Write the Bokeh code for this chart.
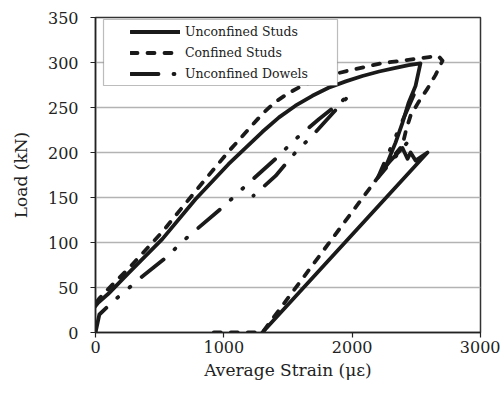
import numpy as np
from bokeh.plotting import figure
from bokeh.models import Legend, LegendItem, FixedTicker, BoxAnnotation, Range1d
from bokeh.embed import file_html
from bokeh.resources import INLINE

# ---- data (strain in microstrain, load in kN) ----
studs_unconf_x = [0, -45, -55, -30, 20, 100, 257, 522, 779, 1036, 1301, 1430, 1558, 1690,
                  1816, 1950, 2080, 2210, 2338, 2440, 2532, 2494, 2439, 2392, 2338, 2275,
                  2236, 2260, 2392, 2431, 2455, 2494, 2587, 1558, 1300]
studs_unconf_y = [0, 5, 14, 24, 33, 43, 66, 104, 148, 187, 223, 239, 252, 263,
                  272, 279, 285, 290, 294, 297, 299, 274, 255, 233, 211, 189,
                  179, 185, 205, 193, 200, 191, 200, 40, 0]

studs_conf_x = [0, -40, -50, -20, 30, 110, 257, 522, 779, 1036, 1301, 1400, 1504, 1620,
                1750, 1860, 1971, 2100, 2221, 2439, 2600, 2673, 2704, 2649, 2587, 2517,
                2455, 2420, 2392, 2300, 2230, 1300, 880]
studs_conf_y = [0, 8, 18, 28, 38, 50, 71, 112, 157, 201, 243, 256, 266, 275,
                282, 287, 291, 295, 299, 303, 306, 307, 302, 286, 271, 256,
                241, 225, 208, 192, 178, 0, 0]

dowels_x = [0, 30, 148, 249, 335, 530, 717, 990, 1177, 1442, 1527, 1740, 1971,
            1985, 1691, 1558, 1403, 1231, np.nan,
            2480, 2200, 2470]
dowels_y = [0, 20, 36, 48, 59, 81, 106, 139, 164, 198, 211, 237, 263,
            265, 219, 200, 174, 152, np.nan,
            264, 172, 218]

series_names = ["Unconfined Studs", "Confined Studs", "Unconfined Dowels"]
x_ticks = [0, 1000, 2000, 3000]
y_ticks = [0, 50, 100, 150, 200, 250, 300, 350]

FONT = "DejaVu Serif"
INK = "#1a1a1a"

p = figure(frame_width=385, frame_height=315,
           min_border_left=95, min_border_right=20, min_border_top=17, min_border_bottom=60,
           x_range=Range1d(0, 3000), y_range=Range1d(0, 350),
           output_backend="svg", toolbar_location=None)

p.background_fill_color = "white"
p.border_fill_color = "white"
p.outline_line_color = "#333333"
p.outline_line_width = 1.5

p.xgrid.visible = False
p.ygrid.grid_line_color = "#b3b3b3"
p.ygrid.grid_line_width = 1.5

for ax in (p.xaxis[0], p.yaxis[0]):
    ax.axis_line_color = "#222222"
    ax.axis_line_width = 1.5
    ax.major_tick_line_color = "#222222"
    ax.major_tick_line_width = 1.2
    ax.major_tick_in = 0
    ax.major_tick_out = 5
    ax.minor_tick_line_color = None
    ax.major_label_text_font = FONT
    ax.major_label_text_font_size = "16px"
    ax.major_label_text_color = "#222222"
    ax.axis_label_text_font = FONT
    ax.axis_label_text_font_size = "17px"
    ax.axis_label_text_font_style = "normal"
    ax.axis_label_text_color = "#222222"

p.xaxis.ticker = FixedTicker(ticks=x_ticks)
p.yaxis.ticker = FixedTicker(ticks=y_ticks)
p.xaxis.axis_label = "Average Strain (με)"
p.yaxis.axis_label = "Load (kN)"
p.xaxis.major_label_standoff = 3
p.xaxis.axis_label_standoff = 4
p.yaxis.major_label_standoff = 12
p.yaxis.axis_label_standoff = 14

r1 = p.line(studs_unconf_x, studs_unconf_y, line_color=INK, line_width=3.8,
            line_join="round", line_cap="round")
r2 = p.line(studs_conf_x, studs_conf_y, line_color=INK, line_width=3.8,
            line_dash="7 10", line_join="round", line_cap="round")
r3 = p.line(dowels_x, dowels_y, line_color=INK, line_width=3.8,
            line_dash="28 15 1 15 1 15", line_join="round", line_cap="round")

box = BoxAnnotation(left=103, right=337, top=19, bottom=85,
                    left_units="canvas", right_units="canvas",
                    top_units="canvas", bottom_units="canvas",
                    fill_color="white", fill_alpha=1.0,
                    line_color="#222222", line_width=1.2)
p.add_layout(box)

legend = Legend(items=[LegendItem(label=series_names[0], renderers=[r1]),
                       LegendItem(label=series_names[1], renderers=[r2]),
                       LegendItem(label=series_names[2], renderers=[r3])],
                location=(35, 248), margin=0, padding=0, spacing=0,
                glyph_width=50, glyph_height=21, label_height=21,
                label_standoff=5,
                label_text_font=FONT, label_text_font_size="12.5px",
                label_text_color="#222222",
                background_fill_alpha=0, border_line_color=None)
p.add_layout(legend)

open("out.html", "w").write(file_html(p, INLINE))
